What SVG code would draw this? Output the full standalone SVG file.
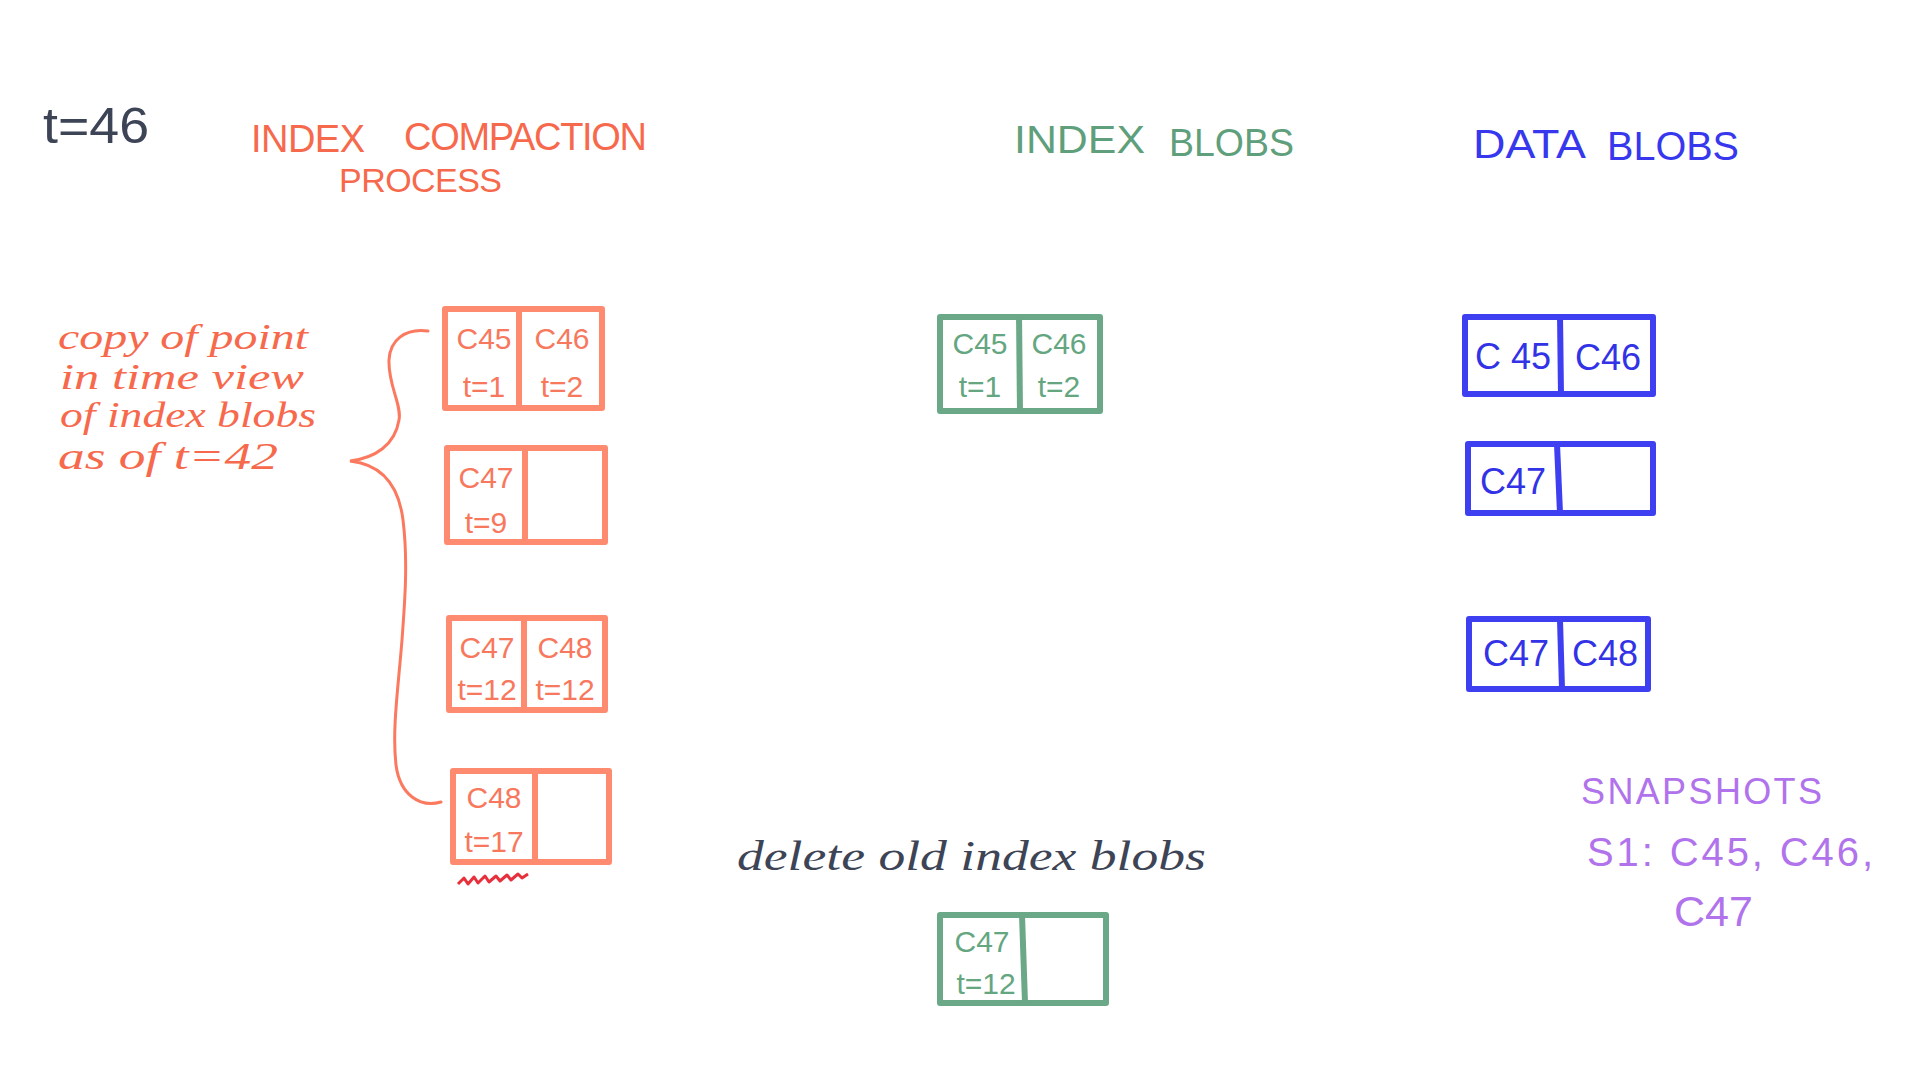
<svg xmlns="http://www.w3.org/2000/svg" width="1920" height="1080" viewBox="0 0 1920 1080">
<style>
  text { font-family: "Liberation Sans", "DejaVu Sans", sans-serif; }
  .dark { fill: #3d4456; }
  .or { fill: #f7694c; }
  .ort { fill: #f8785d; font-size: 30px; text-anchor: middle; }
  .orbox { fill: none; stroke: #fe8a70; stroke-width: 6; stroke-linejoin: round; }
  .gr { fill: #5f9f7c; }
  .grt { fill: #64a680; font-size: 30px; text-anchor: middle; }
  .grbox { fill: none; stroke: #6aa887; stroke-width: 6; stroke-linejoin: round; }
  .bl { fill: #3737ee; }
  .blt { fill: #3232e6; font-size: 36px; text-anchor: middle; }
  .blbox { fill: none; stroke: #3f3ff2; stroke-width: 6; stroke-linejoin: round; }
  .pu { fill: #b173ec; }
  .cursive { font-family: "Liberation Serif", "DejaVu Serif", serif; font-style: italic; }
</style>
<rect width="1920" height="1080" fill="#ffffff"/>

<g id="titles">
  <text class="dark" x="43" y="143" font-size="50" textLength="106" lengthAdjust="spacingAndGlyphs">t=46</text>
  <text class="or" x="251" y="152" font-size="38" textLength="114" lengthAdjust="spacing">INDEX</text>
  <text class="or" x="404" y="150" font-size="38" textLength="243" lengthAdjust="spacing">COMPACTION</text>
  <text class="or" x="339" y="192" font-size="34" textLength="163" lengthAdjust="spacing">PROCESS</text>
  <text class="gr" x="1014" y="153" font-size="38" textLength="131" lengthAdjust="spacingAndGlyphs">INDEX</text>
  <text class="gr" x="1169" y="156" font-size="38" textLength="125" lengthAdjust="spacingAndGlyphs">BLOBS</text>
  <text class="bl" x="1473" y="158" font-size="40" textLength="113" lengthAdjust="spacingAndGlyphs">DATA</text>
  <text class="bl" x="1607" y="160" font-size="40" textLength="132" lengthAdjust="spacingAndGlyphs">BLOBS</text>
</g>

<g id="pit-note">
  <text class="or cursive" x="58" y="349" font-size="36" textLength="250" lengthAdjust="spacingAndGlyphs">copy of point</text>
  <text class="or cursive" x="60" y="389" font-size="36" textLength="244" lengthAdjust="spacingAndGlyphs">in time view</text>
  <text class="or cursive" x="60" y="427" font-size="36" textLength="256" lengthAdjust="spacingAndGlyphs">of index blobs</text>
  <text class="or cursive" x="58" y="469" font-size="38" textLength="220" lengthAdjust="spacingAndGlyphs">as of t=42</text>
</g>

<g id="connectors">
  <path d="M 428 331 C 405 328 390 340 389 360 C 388 385 402 405 399 420 C 395 445 375 458 350 461 C 378 464 398 480 403 520 C 408 560 405 600 402 640 C 398 690 392 730 396 765 C 400 795 420 808 441 802" fill="none" stroke="#fb7a5f" stroke-width="3" stroke-linecap="round"/>
</g>

<g id="orange-blob-1">
  <rect class="orbox" x="445" y="309" width="157" height="99"/>
  <line class="orbox" x1="519" y1="309" x2="519" y2="408"/>
  <text class="ort" x="484" y="349">C45</text>
  <text class="ort" x="484" y="397">t=1</text>
  <text class="ort" x="562" y="349">C46</text>
  <text class="ort" x="562" y="397">t=2</text>
</g>
<g id="orange-blob-2">
  <rect class="orbox" x="447" y="448" width="158" height="94"/>
  <line class="orbox" x1="525" y1="448" x2="525" y2="542"/>
  <text class="ort" x="486" y="488">C47</text>
  <text class="ort" x="486" y="533">t=9</text>
</g>
<g id="orange-blob-3">
  <rect class="orbox" x="449" y="618" width="156" height="92"/>
  <line class="orbox" x1="524" y1="618" x2="524" y2="710"/>
  <text class="ort" x="487" y="658">C47</text>
  <text class="ort" x="487" y="700">t=12</text>
  <text class="ort" x="565" y="658">C48</text>
  <text class="ort" x="565" y="700">t=12</text>
</g>
<g id="orange-blob-4">
  <rect class="orbox" x="453" y="771" width="156" height="91"/>
  <line class="orbox" x1="535" y1="771" x2="535" y2="862"/>
  <text class="ort" x="494" y="808">C48</text>
  <text class="ort" x="494" y="852">t=17</text>
  <path d="M 458 884 L 464 878 L 468 884 L 474 877 L 478 883 L 485 876 L 489 882 L 496 876 L 500 881 L 507 875 L 511 880 L 518 874 L 522 878 L 528 874" fill="none" stroke="#e8303c" stroke-width="3" stroke-linejoin="round"/>
</g>

<g id="index-blob-top">
  <rect class="grbox" x="940" y="317" width="160" height="94"/>
  <line class="grbox" x1="1019" y1="314" x2="1020" y2="413"/>
  <text class="grt" x="980" y="354">C45</text>
  <text class="grt" x="980" y="397">t=1</text>
  <text class="grt" x="1059" y="354">C46</text>
  <text class="grt" x="1059" y="397">t=2</text>
</g>

<g id="delete-note">
  <text class="dark cursive" x="737" y="870" font-size="42" textLength="469" lengthAdjust="spacingAndGlyphs">delete  old  index  blobs</text>
</g>

<g id="index-blob-bottom">
  <rect class="grbox" x="940" y="915" width="166" height="88"/>
  <line class="grbox" x1="1022" y1="915" x2="1025" y2="1003"/>
  <text class="grt" x="982" y="952">C47</text>
  <text class="grt" x="986" y="994">t=12</text>
</g>

<g id="data-blob-1">
  <rect class="blbox" x="1465" y="317" width="188" height="77"/>
  <line class="blbox" x1="1560" y1="314" x2="1561" y2="396"/>
  <text class="blt" x="1513" y="369">C 45</text>
  <text class="blt" x="1608" y="370">C46</text>
</g>
<g id="data-blob-2">
  <rect class="blbox" x="1468" y="444" width="185" height="69"/>
  <line class="blbox" x1="1557" y1="444" x2="1560" y2="513"/>
  <text class="blt" x="1513" y="494">C47</text>
</g>
<g id="data-blob-3">
  <rect class="blbox" x="1469" y="619" width="179" height="70"/>
  <line class="blbox" x1="1560" y1="620" x2="1562" y2="689"/>
  <text class="blt" x="1516" y="666">C47</text>
  <text class="blt" x="1605" y="666">C48</text>
</g>

<g id="snapshots">
  <text class="pu" x="1581" y="804" font-size="36" textLength="241" lengthAdjust="spacing">SNAPSHOTS</text>
  <text class="pu" x="1587" y="866" font-size="40" textLength="286" lengthAdjust="spacing">S1: C45, C46,</text>
  <text class="pu" x="1674" y="926" font-size="42" textLength="79" lengthAdjust="spacingAndGlyphs">C47</text>
</g>
</svg>
